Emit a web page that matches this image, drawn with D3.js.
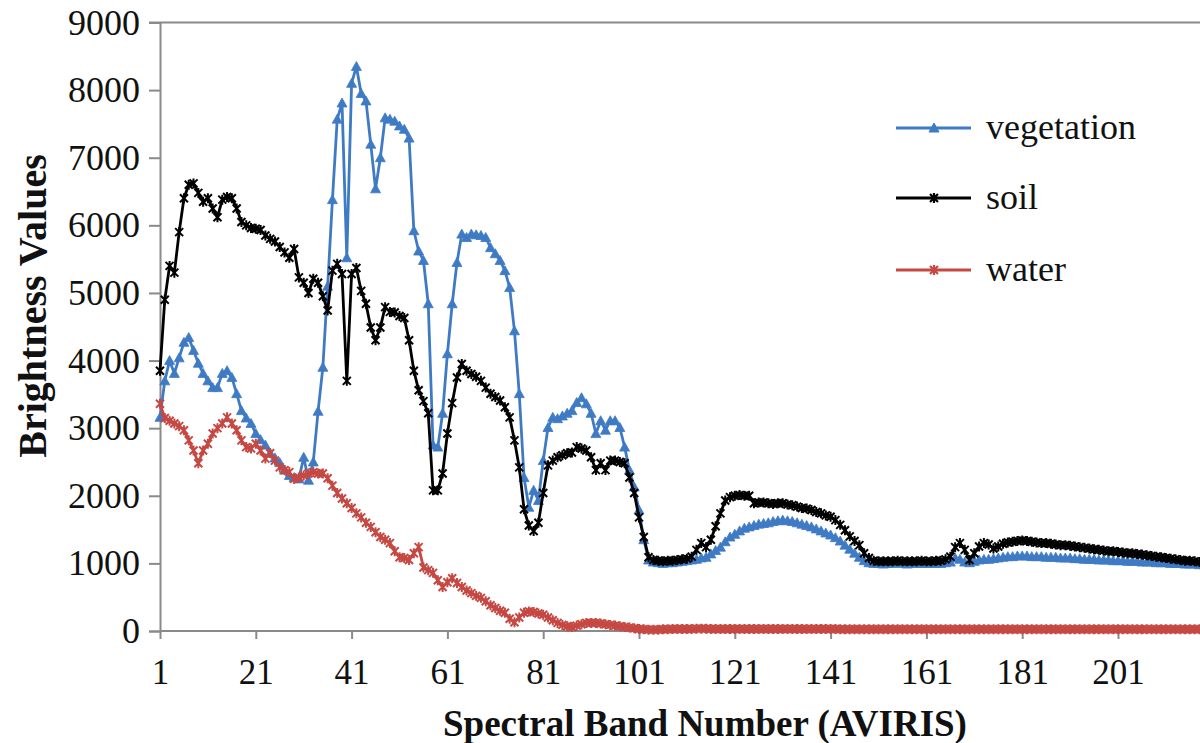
<!DOCTYPE html>
<html><head><meta charset="utf-8">
<script src="https://cdn.jsdelivr.net/npm/d3@7/dist/d3.min.js"></script>
<style>
body{margin:0;background:#fff;}
svg text{font-family:"Liberation Serif","Times New Roman",serif;fill:#111;}
</style>
</head><body>
<svg id="chart" width="1200" height="743" font-family="Liberation Serif, serif"></svg>
<script>
const bands = d3.range(1, 221);
const xTickValues = [1,21,41,61,81,101,121,141,161,181,201];
const yTickValues = [0,1000,2000,3000,4000,5000,6000,7000,8000,9000];
const seriesNames = ["vegetation","soil","water"];
const seriesColors = ["#3f7bc4","#000000","#c64843"];

const vegetation = [
3160,3700,4000,3810,4040,4270,4340,4150,3960,3810,
3700,3600,3600,3810,3850,3750,3510,3260,3150,3070,
2920,2830,2750,2630,2560,2490,2380,2300,2270,2250,
2570,2230,2500,3250,3900,5100,6380,7570,7810,5520,
8100,8350,7950,7840,7200,6540,7000,7590,7570,7540,
7470,7420,7290,5920,5620,5480,4840,2750,2720,3220,
4100,4840,5450,5870,5820,5870,5860,5850,5820,5670,
5580,5480,5330,5080,4440,3510,2270,1830,2080,1930,
2520,3010,3160,3140,3180,3220,3260,3380,3450,3360,
3220,2920,3110,2970,3110,3110,3010,2720,2380,2130,
1790,1350,1050,1020,1010,1000,1010,1010,1020,1030,
1040,1050,1060,1080,1090,1140,1190,1240,1320,1390,
1430,1480,1520,1540,1560,1580,1590,1600,1620,1630,
1640,1630,1620,1600,1580,1560,1540,1510,1480,1450,
1420,1380,1330,1270,1210,1150,1090,1040,1010,1000,
1000,990,1000,1000,1010,1000,990,1000,1000,1000,
1000,1000,1000,1000,1010,1020,1080,1060,1020,1010,
1030,1050,1060,1060,1070,1080,1090,1100,1100,1110,
1110,1110,1100,1100,1100,1090,1090,1090,1080,1080,
1080,1070,1070,1060,1060,1060,1050,1050,1050,1040,
1040,1040,1030,1030,1030,1020,1020,1020,1010,1010,
1010,1000,1000,1000,990,990,990,980,980,980];

const soil = [
3850,4900,5400,5300,5900,6400,6600,6620,6480,6350,
6400,6250,6120,6380,6420,6400,6250,6050,6000,5960,
5950,5930,5850,5800,5760,5680,5600,5520,5650,5230,
5150,5000,5210,5150,4950,4740,5330,5430,5280,3700,
5280,5370,5030,4840,4490,4300,4490,4790,4720,4710,
4660,4630,4300,3850,3560,3400,3220,2080,2080,2330,
2920,3370,3750,3950,3850,3800,3760,3700,3600,3510,
3460,3410,3310,3160,2820,2420,1800,1560,1480,1600,
2040,2450,2520,2570,2600,2630,2640,2720,2700,2670,
2570,2380,2480,2380,2520,2520,2500,2480,2270,2040,
1680,1390,1090,1050,1040,1030,1040,1040,1050,1060,
1070,1100,1200,1300,1240,1350,1550,1740,1930,1980,
2000,2010,2000,2000,1890,1900,1900,1890,1880,1890,
1890,1870,1860,1840,1820,1810,1790,1760,1740,1710,
1690,1640,1570,1490,1400,1330,1270,1150,1080,1040,
1030,1030,1030,1030,1040,1030,1030,1030,1030,1040,
1030,1030,1040,1040,1060,1100,1240,1300,1200,1050,
1150,1250,1300,1280,1220,1250,1290,1310,1320,1330,
1340,1330,1320,1310,1300,1300,1290,1280,1270,1270,
1260,1250,1240,1230,1220,1210,1200,1190,1180,1180,
1170,1160,1150,1150,1140,1130,1120,1110,1100,1090,
1080,1070,1060,1050,1040,1040,1030,1020,1010,1000];

const water = [
3360,3150,3110,3070,3030,2970,2820,2670,2480,2670,
2770,2920,3000,3070,3160,3070,2970,2820,2720,2700,
2770,2670,2550,2630,2520,2420,2380,2350,2250,2270,
2300,2330,2350,2330,2330,2260,2150,2040,1960,1890,
1820,1740,1680,1600,1540,1460,1390,1350,1300,1180,
1090,1080,1050,1150,1240,940,900,860,750,650,
720,780,710,650,600,560,520,490,440,380,
340,300,270,180,130,200,270,290,280,260,
240,200,160,120,90,70,60,80,100,120,
120,120,110,100,90,80,70,60,50,40,
30,25,20,20,20,25,25,30,30,30,
30,30,35,35,35,30,30,30,30,30,
30,30,30,30,30,30,30,30,30,30,
30,30,30,30,30,30,30,30,30,30,
30,30,25,25,25,25,25,25,25,25,
25,25,25,25,25,25,25,25,25,25,
25,25,25,25,25,25,25,25,25,25,
25,25,25,25,25,25,25,25,25,25,
25,25,25,25,25,25,25,25,25,25,
25,25,25,25,25,25,25,25,25,25,
25,25,25,25,25,25,25,25,25,25,
25,25,25,25,25,25,25,25,25,25];

const seriesData = [vegetation, soil, water];

const svg = d3.select("#chart");
const x = d3.scaleLinear().domain([1, 220]).range([160, 160 + 219 * 4.79]);
const y = d3.scaleLinear().domain([0, 9000]).range([631, 22.5]);
const axisColor = "#8a8a8a";
const serif = "'Liberation Serif','Times New Roman',serif";

// top border line (9000 level)
svg.append("line").attr("x1", 149).attr("x2", 1200)
  .attr("y1", y(9000)).attr("y2", y(9000))
  .attr("stroke", axisColor).attr("stroke-width", 2);

// Y axis
const gy = svg.append("g").attr("transform", "translate(160,0)")
  .call(d3.axisLeft(y).tickValues(yTickValues).tickSize(11).tickPadding(9).tickFormat(d3.format("d")));
gy.attr("font-family", serif);
gy.select(".domain").attr("stroke", axisColor).attr("stroke-width", 2);
gy.selectAll(".tick line").attr("stroke", axisColor).attr("stroke-width", 2);
gy.selectAll(".tick text").attr("font-size", 36).attr("fill", "#111").style("font-family", serif);

// X axis
const gx = svg.append("g").attr("transform", `translate(0,${y(0)})`)
  .call(d3.axisBottom(x).tickValues(xTickValues).tickSize(8).tickPadding(20).tickFormat(d3.format("d")));
gx.attr("font-family", serif);
gx.select(".domain").attr("stroke", axisColor).attr("stroke-width", 2)
  .attr("d", `M${x(1)},0H1200`);
gx.selectAll(".tick line").attr("stroke", axisColor).attr("stroke-width", 2);
gx.selectAll(".tick text").attr("font-size", 35).attr("fill", "#111").style("font-family", serif);

// Series
const line = d3.line().x((d, i) => x(bands[i])).y(d => y(d));
const triPath = "M0,-5L5,4L-5,4Z";
const starPath = "M-4,-4L4,4M-4,4L4,-4M0,-5L0,5";
const xPath = "M-4,-4L4,4M-4,4L4,-4M0,-5L0,5";

seriesData.forEach((vals, si) => {
  const col = seriesColors[si];
  const g = svg.append("g");
  g.append("path").datum(vals).attr("d", line)
    .attr("fill", "none").attr("stroke", col).attr("stroke-width", 2.8)
    .attr("stroke-linejoin", "round");
  const m = g.selectAll("path.m").data(vals).enter().append("path").attr("class", "m")
    .attr("transform", (d, i) => `translate(${x(bands[i])},${y(d)})`);
  if (si === 0) {
    m.attr("d", triPath).attr("fill", col).attr("stroke", col).attr("stroke-width", 0.8);
  } else {
    m.attr("d", si === 1 ? starPath : xPath).attr("fill", "none").attr("stroke", col).attr("stroke-width", 2);
  }
});

// Legend
const legendY = [128, 198, 270];
seriesNames.forEach((name, i) => {
  const col = seriesColors[i];
  const g = svg.append("g").attr("transform", `translate(0,${legendY[i]})`);
  g.append("line").attr("x1", 896).attr("x2", 971).attr("y1", 0).attr("y2", 0)
    .attr("stroke", col).attr("stroke-width", 3);
  const mk = g.append("path").attr("transform", "translate(934,0)");
  if (i === 0) mk.attr("d", triPath).attr("fill", col).attr("stroke", col);
  else mk.attr("d", i === 1 ? starPath : xPath).attr("fill", "none").attr("stroke", col).attr("stroke-width", 2.2);
  g.append("text").attr("x", 986).attr("y", 0).attr("dy", "0.3em")
    .attr("font-size", 36).style("font-family", serif).text(name);
});

// Axis titles
svg.append("text").attr("x", 705).attr("y", 736).attr("text-anchor", "middle")
  .attr("font-size", 37).attr("font-weight", "bold").style("font-family", serif)
  .text("Spectral Band Number (AVIRIS)");
svg.append("text").attr("transform", "translate(46,306) rotate(-90)")
  .attr("text-anchor", "middle").attr("font-size", 40).attr("font-weight", "bold")
  .style("font-family", serif).text("Brightness Values");
</script>
</body></html>
